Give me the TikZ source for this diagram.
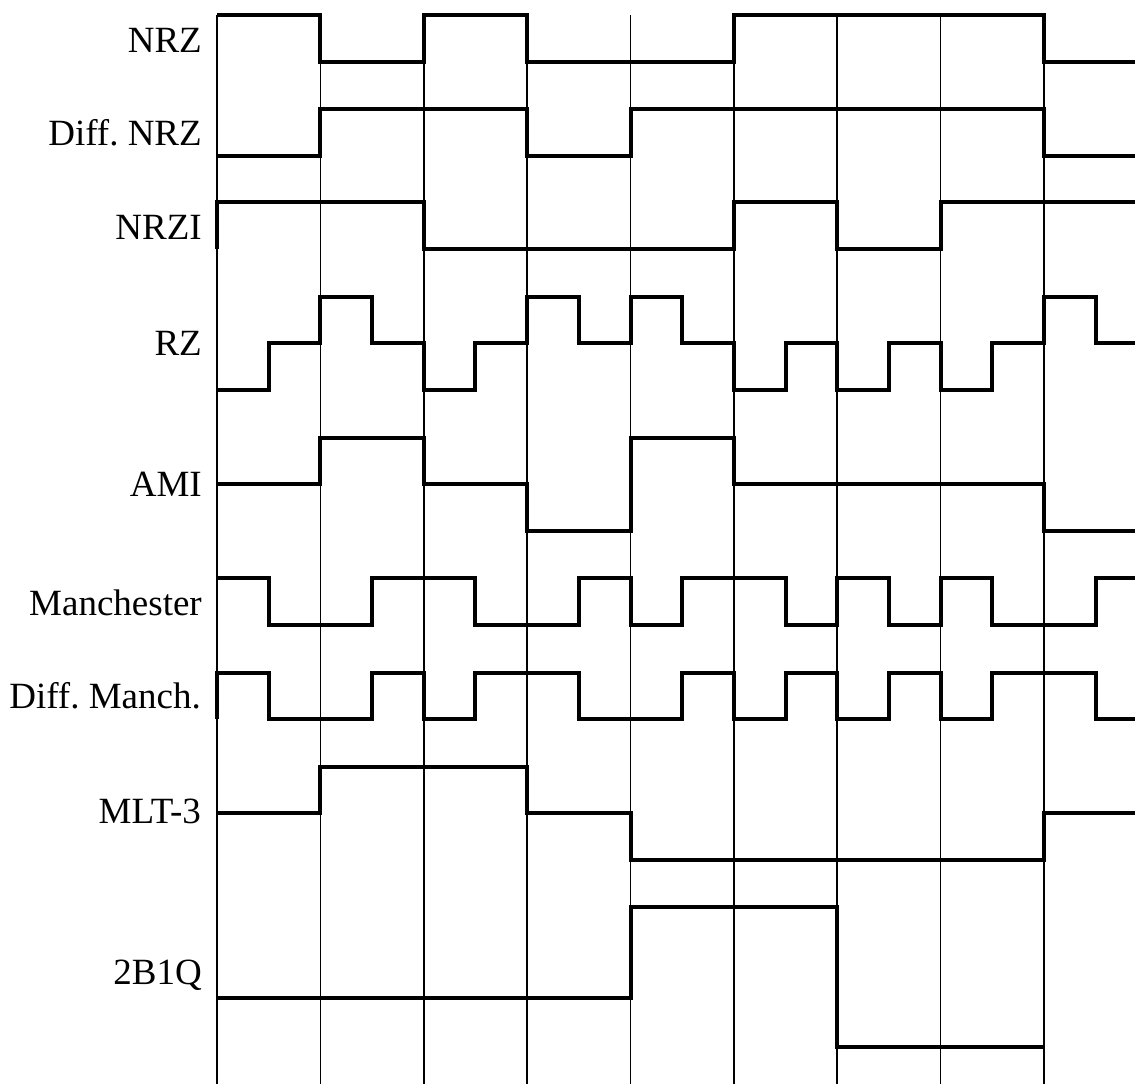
\documentclass[tikz,border=0pt]{standalone}
\usepackage{fontspec}
\setmainfont{Liberation Serif}
\frenchspacing
\begin{document}
\begin{tikzpicture}[x=1pt,y=-1pt,
  sig/.style={line width=4pt, line join=miter},
  grid/.style={line width=1.6pt},
  lab/.style={anchor=base east, inner sep=0pt, font=\fontsize{37}{40}\selectfont}]
\useasboundingbox (0,0) rectangle (1135,1084);
% bit boundaries and mid points
\def\bA{217}\def\bB{320.4}\def\bC{423.75}\def\bD{527.1}\def\bE{630.5}
\def\bF{733.9}\def\bG{837.25}\def\bH{940.6}\def\bI{1044}
\def\mA{268.7}\def\mB{372.1}\def\mC{475.4}\def\mD{578.8}\def\mE{682.2}
\def\mF{785.6}\def\mG{888.9}\def\mH{992.3}\def\mI{1095.7}
\def\xe{1135}
% grid
\foreach \x in {\bA,\bB,\bC,\bD,\bE,\bF,\bG,\bH,\bI}
  \draw[grid] (\x,15) -- (\x,1084);
% labels
\node[lab] (lnrz)  at (202,52)  {NRZ};
\node[lab] (ldnrz) at (202,145) {Diff. NRZ};
\node[lab] (lnrzi) at (202,239) {NRZI};
\node[lab] (lrz)   at (202,355) {RZ};
\node[lab] (lami)  at (202,496) {AMI};
\node[lab] (lman)  at (202,615) {Manchester};
\node[lab] (ldman) at (201,708) {Diff. Manch.};
\node[lab] (lmlt)  at (201,823) {MLT-3};
\node[lab] (l2b1q) at (202,984) {2B1Q};
% NRZ
\draw[sig] (\bA,15) -- (\bB,15) -- (\bB,62) -- (\bC,62) -- (\bC,15) -- (\bD,15) -- (\bD,62)
  -- (\bF,62) -- (\bF,15) -- (\bI,15) -- (\bI,62) -- (\xe,62);
% Diff NRZ
\draw[sig] (\bA,156) -- (\bB,156) -- (\bB,109) -- (\bD,109) -- (\bD,156) -- (\bE,156)
  -- (\bE,109) -- (\bI,109) -- (\bI,156) -- (\xe,156);
% NRZI
\draw[sig] (\bA,249) -- (\bA,202) -- (\bC,202) -- (\bC,249) -- (\bF,249) -- (\bF,202)
  -- (\bG,202) -- (\bG,249) -- (\bH,249) -- (\bH,202) -- (\xe,202);
% RZ
\draw[sig] (\bA,390) -- (\mA,390) -- (\mA,343) -- (\bB,343) -- (\bB,297) -- (\mB,297)
  -- (\mB,343) -- (\bC,343) -- (\bC,390) -- (\mC,390) -- (\mC,343) -- (\bD,343)
  -- (\bD,297) -- (\mD,297) -- (\mD,343) -- (\bE,343) -- (\bE,297) -- (\mE,297)
  -- (\mE,343) -- (\bF,343) -- (\bF,390) -- (\mF,390) -- (\mF,343) -- (\bG,343)
  -- (\bG,390) -- (\mG,390) -- (\mG,343) -- (\bH,343) -- (\bH,390) -- (\mH,390)
  -- (\mH,343) -- (\bI,343) -- (\bI,297) -- (\mI,297) -- (\mI,343) -- (\xe,343);
% AMI
\draw[sig] (\bA,484) -- (\bB,484) -- (\bB,438) -- (\bC,438) -- (\bC,484) -- (\bD,484)
  -- (\bD,531) -- (\bE,531) -- (\bE,438) -- (\bF,438) -- (\bF,484) -- (\bI,484)
  -- (\bI,531) -- (\xe,531);
% Manchester
\draw[sig] (\bA,578) -- (\mA,578) -- (\mA,625) -- (\mB,625) -- (\mB,578) -- (\mC,578)
  -- (\mC,625) -- (\mD,625) -- (\mD,578) -- (\bE,578) -- (\bE,625) -- (\mE,625)
  -- (\mE,578) -- (\mF,578) -- (\mF,625) -- (\bG,625) -- (\bG,578) -- (\mG,578)
  -- (\mG,625) -- (\bH,625) -- (\bH,578) -- (\mH,578) -- (\mH,625) -- (\mI,625)
  -- (\mI,578) -- (\xe,578);
% Diff Manchester
\draw[sig] (\bA,719) -- (\bA,673) -- (\mA,673) -- (\mA,719) -- (\mB,719) -- (\mB,673)
  -- (\bC,673) -- (\bC,719) -- (\mC,719) -- (\mC,673) -- (\mD,673) -- (\mD,719)
  -- (\mE,719) -- (\mE,673) -- (\bF,673) -- (\bF,719) -- (\mF,719) -- (\mF,673)
  -- (\bG,673) -- (\bG,719) -- (\mG,719) -- (\mG,673) -- (\bH,673) -- (\bH,719)
  -- (\mH,719) -- (\mH,673) -- (\mI,673) -- (\mI,719) -- (\xe,719);
% MLT-3
\draw[sig] (\bA,813) -- (\bB,813) -- (\bB,767) -- (\bD,767) -- (\bD,813) -- (\bE,813)
  -- (\bE,860) -- (\bI,860) -- (\bI,813) -- (\xe,813);
% 2B1Q
\draw[sig] (\bA,998) -- (\bE,998) -- (\bE,907) -- (\bG,907) -- (\bG,1047) -- (\bI,1047);
\end{tikzpicture}
\end{document}
